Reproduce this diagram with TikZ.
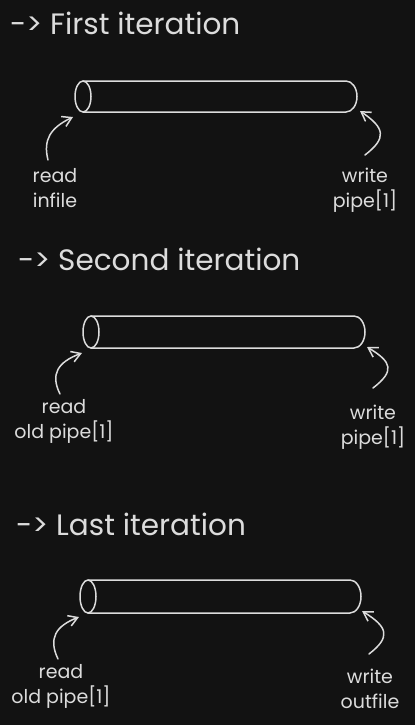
\documentclass[tikz,border=0pt]{standalone}
\usepackage{fontspec}
\setmainfont{Poppins}
\usetikzlibrary{arrows.meta}
\definecolor{bg}{HTML}{121212}
\definecolor{ink}{HTML}{DCDCDC}
\begin{document}
\begin{tikzpicture}[x=1pt,y=-1pt,
  inkline/.style={draw=ink,line width=1.5pt,line cap=round,line join=round},
  conn/.style={inkline,-{Straight Barb[length=9pt,width=11pt]}},
  title/.style={text=ink,font=\fontsize{29.5}{32}\selectfont,anchor=base west,inner sep=0pt},
  lbl/.style={text=ink,font=\fontsize{19}{25}\selectfont,align=center,anchor=base,inner sep=0pt}
]
\fill[bg] (0,0) rectangle (415,725);
\useasboundingbox (0,0) rectangle (415,725);

% ---------- First iteration ----------
\node[title] (t1) at (10,35) {-> First iteration};
\draw[inkline] (83,81) -- (346,81) arc[start angle=90,end angle=-90,x radius=11pt,y radius=15.5pt] -- (83,112);
\draw[inkline] (83,96.5) ellipse[x radius=8pt,y radius=15.5pt];
\coordinate (p1l) at (73,117);
\coordinate (p1r) at (360,111);
\node[lbl] (r1) at (55,207) {read\\infile};
\node[lbl] (w1) at (365,207) {write\\pipe[1]};
\coordinate (r1s) at (48,160);
\coordinate (w1s) at (365,155);
\draw[conn] (r1s) .. controls (43,140) and (50,128) .. (p1l);
\draw[conn] (w1s) .. controls (387,138) and (385,128) .. (p1r);

% ---------- Second iteration ----------
\node[title] (t2) at (18,270) {-> Second iteration};
\draw[inkline] (91,316) -- (354,316) arc[start angle=90,end angle=-90,x radius=11pt,y radius=16pt] -- (91,348);
\draw[inkline] (91,332) ellipse[x radius=8pt,y radius=16pt];
\coordinate (p2l) at (82,353);
\coordinate (p2r) at (367,347);
\node[lbl] (r2) at (64,438) {read\\old pipe[1]};
\node[lbl] (w2) at (373,444) {write\\pipe[1]};
\coordinate (r2s) at (60,394);
\coordinate (w2s) at (373,388);
\draw[conn] (r2s) .. controls (50,374) and (58,362) .. (p2l);
\draw[conn] (w2s) .. controls (395,371) and (392,362) .. (p2r);

% ---------- Last iteration ----------
\node[title] (t3) at (16,535) {-> Last iteration};
\draw[inkline] (88,580) -- (350,580) arc[start angle=90,end angle=-90,x radius=11pt,y radius=16.5pt] -- (88,613);
\draw[inkline] (88,596.5) ellipse[x radius=8pt,y radius=16.5pt];
\coordinate (p3l) at (79,617);
\coordinate (p3r) at (362,611);
\node[lbl] (r3) at (61,703) {read\\old pipe[1]};
\node[lbl] (w3) at (370,708) {write\\outfile};
\coordinate (r3s) at (58,659);
\coordinate (w3s) at (369,654);
\draw[conn] (r3s) .. controls (48,638) and (56,626) .. (p3l);
\draw[conn] (w3s) .. controls (391,637) and (388,627) .. (p3r);
\end{tikzpicture}
\end{document}
